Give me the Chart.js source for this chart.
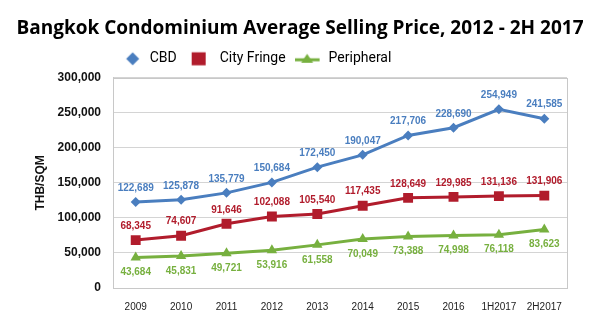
<!DOCTYPE html>
<html>
<head>
<meta charset="utf-8">
<script src="https://cdn.jsdelivr.net/npm/chart.js@4.4.1/dist/chart.umd.min.js"></script>
<style>
  html, body { margin: 0; padding: 0; background: #fff; }
  #wrap { width: 600px; height: 328px; }
</style>
</head>
<body>
<div id="wrap"><canvas id="chart" width="600" height="328"></canvas></div>
<script>
// --- Data ---
const periods = ['2009', '2010', '2011', '2012', '2013', '2014', '2015', '2016', '1H2017', '2H2017'];
const cbd = [122689, 125878, 135779, 150684, 172450, 190047, 217706, 228690, 254949, 241585];
const cityFringe = [68345, 74607, 91646, 102088, 105540, 117435, 128649, 129985, 131136, 131906];
const peripheral = [43684, 45831, 49721, 53916, 61558, 70049, 73388, 74998, 76118, 83623];
const yTicks = [0, 50000, 100000, 150000, 200000, 250000, 300000];

const BLUE = '#4a7ebf';
const RED = '#b11c2c';
const GREEN = '#77b03f';
const LABEL_FONT = '"Liberation Sans", Arial, sans-serif';

const fmt = v => v.toLocaleString('en-US');

// legend swatches drawn on small canvases (legend centres each on its 22px box)
function swatch(kind, color) {
  const c = document.createElement('canvas');
  c.width = kind === 'triangle' ? 32 : 22;
  c.height = 16;
  const g = c.getContext('2d');
  g.fillStyle = color; g.strokeStyle = color;
  if (kind === 'diamond') {
    g.beginPath();
    g.moveTo(12, 1.5); g.lineTo(18.5, 8); g.lineTo(12, 14.5); g.lineTo(5.5, 8);
    g.closePath(); g.fill();
  } else if (kind === 'square') {
    g.fillRect(1, 1.5, 14, 13);
  } else {
    g.lineWidth = 3;
    g.beginPath(); g.moveTo(0, 9); g.lineTo(25, 9); g.stroke();
    g.beginPath();
    g.moveTo(12.5, 3); g.lineTo(18.5, 12); g.lineTo(6.5, 12);
    g.closePath(); g.fill();
  }
  return c;
}

// value labels above / below the points
const valueLabels = {
  id: 'valueLabels',
  afterDatasetsDraw(chart) {
    const ctx = chart.ctx;
    ctx.save();
    ctx.font = 'bold 10px ' + LABEL_FONT;
    ctx.textAlign = 'center';
    ctx.textBaseline = 'middle';
    chart.data.datasets.forEach((ds, i) => {
      const meta = chart.getDatasetMeta(i);
      ctx.fillStyle = ds.borderColor;
      meta.data.forEach((pt, j) => {
        ctx.fillText(fmt(ds.data[j]), pt.x, pt.y + ds.labelOffset);
      });
    });
    ctx.restore();
  }
};

// thin frame around the plot area
const plotFrame = {
  id: 'plotFrame',
  beforeDatasetsDraw(chart) {
    const { ctx, chartArea: a } = chart;
    ctx.save();
    ctx.strokeStyle = '#c8c8c8';
    ctx.lineWidth = 1;
    ctx.strokeRect(Math.round(a.left) + 0.5, Math.round(a.top) + 0.5,
      Math.round(a.right - a.left), Math.round(a.bottom - a.top));
    ctx.restore();
  }
};

// the legend in the original sits left of centre and a little higher
const legendShift = {
  id: 'legendShift',
  afterLayout(chart) {
    chart.legend.left -= 44;
    chart.legend.right -= 44;
    chart.legend.top -= 2;
    chart.legend.bottom -= 2;
  }
};

const swatches = [swatch('diamond', BLUE), swatch('square', RED), swatch('triangle', GREEN)];

new Chart(document.getElementById('chart'), {
  type: 'line',
  data: {
    labels: periods,
    datasets: [
      { label: 'CBD', data: cbd, borderColor: BLUE, backgroundColor: BLUE,
        pointStyle: 'rectRot', pointRadius: 5, labelOffset: -14 },
      { label: 'City Fringe', data: cityFringe, borderColor: RED, backgroundColor: RED,
        pointStyle: 'rect', pointRadius: 7, labelOffset: -14 },
      { label: 'Peripheral', data: peripheral, borderColor: GREEN, backgroundColor: GREEN,
        pointStyle: 'triangle', pointRadius: 6, labelOffset: 15 }
    ]
  },
  options: {
    responsive: false,
    animation: false,
    layout: { padding: 0 },
    elements: {
      line: { borderWidth: 3, tension: 0 },
      point: { borderWidth: 0, hoverRadius: 6 }
    },
    scales: {
      x: {
        offset: true,
        grid: { display: false, drawTicks: false },
        border: { display: true, color: '#c8c8c8' },
        ticks: { color: '#222', padding: 13, font: { size: 10, family: LABEL_FONT } },
        afterFit: s => { s.height = 40; }
      },
      y: {
        min: 0, max: 300000,
        afterBuildTicks: s => { s.ticks = yTicks.map(v => ({ value: v })); },
        grid: { color: '#d4d4d4', drawTicks: false },
        border: { display: true, color: '#c8c8c8' },
        ticks: { color: '#111', padding: 12, callback: v => fmt(v),
          font: { size: 12, weight: 'bold', family: LABEL_FONT } },
        title: { display: true, text: 'THB/SQM', color: '#111', padding: { top: 33, bottom: 0 },
          font: { size: 12, weight: 'bold', family: LABEL_FONT } },
        afterFit: s => { s.width = 113; }
      },
      spare: {
        position: 'right',
        display: true,
        grid: { display: false },
        border: { display: false },
        ticks: { display: false },
        afterFit: s => { s.width = 33; }
      }
    },
    plugins: {
      title: {
        display: true,
        text: 'Bangkok Condominium Average Selling Price, 2012 - 2H 2017',
        color: '#000',
        font: { size: 19, weight: 'bold', family: '"Open Sans", sans-serif' },
        padding: { top: 17, bottom: 0 }
      },
      legend: {
        labels: {
          usePointStyle: true,
          pointStyleWidth: 22,
          padding: 14,
          color: '#111',
          font: { size: 14, family: 'Roboto, sans-serif' },
          generateLabels: chart => chart.data.datasets.map((ds, i) => ({
            text: ds.label, pointStyle: swatches[i], fillStyle: ds.borderColor,
            strokeStyle: ds.borderColor, lineWidth: 0, datasetIndex: i, hidden: false
          }))
        }
      },
      tooltip: { enabled: false }
    }
  },
  plugins: [plotFrame, valueLabels, legendShift]
});
</script>
</body>
</html>
